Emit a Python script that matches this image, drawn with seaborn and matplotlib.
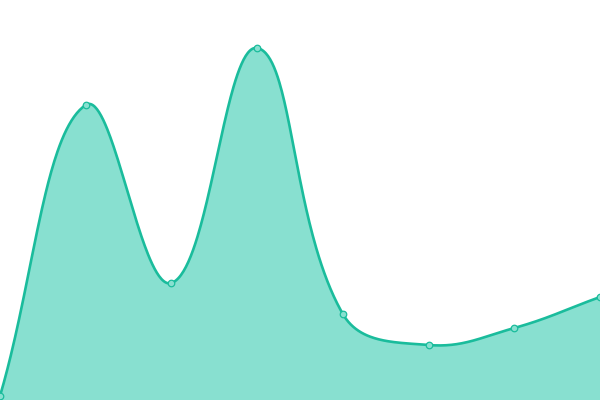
import numpy as np
import pandas as pd
import matplotlib
matplotlib.use("Agg")
import matplotlib.pyplot as plt
import seaborn as sns

# Data
x_index = [0, 1, 2, 3, 4, 5, 6, 7]
values = [4, 295, 117, 352, 86, 55, 72, 103]

LINE = "#1abc9c"
FILL = "#88e0d0"
TENSION = 0.4
XPX = 600 / 7.0  # pixels per x unit (used for the spline distances)


def spline_curve(x, y, tension=TENSION, per=80):
    """Bezier spline through the points (Chart.js style control points)."""
    px = np.asarray(x, float) * XPX
    py = np.asarray(y, float)
    pts = np.column_stack([px, py])
    n = len(pts)
    cp_prev = np.zeros_like(pts)
    cp_next = np.zeros_like(pts)
    for i in range(n):
        prev = pts[max(i - 1, 0)]
        cur = pts[i]
        nxt = pts[min(i + 1, n - 1)]
        d01 = np.hypot(*(cur - prev))
        d12 = np.hypot(*(nxt - cur))
        s01 = d01 / (d01 + d12) if (d01 + d12) else 0
        s12 = d12 / (d01 + d12) if (d01 + d12) else 0
        fa = tension * s01
        fb = tension * s12
        cp_prev[i] = cur - fa * (nxt - prev)
        cp_next[i] = cur + fb * (nxt - prev)
    xs, ys = [], []
    for i in range(n - 1):
        u = np.linspace(0, 1, per, endpoint=(i == n - 2))[:, None]
        p0, p1, p2, p3 = pts[i], cp_next[i], cp_prev[i + 1], pts[i + 1]
        b = ((1 - u) ** 3) * p0 + 3 * ((1 - u) ** 2) * u * p1 + 3 * (1 - u) * u**2 * p2 + u**3 * p3
        xs.append(b[:, 0] / XPX)
        ys.append(b[:, 1])
    return np.concatenate(xs), np.concatenate(ys)


df = pd.DataFrame({"x": x_index, "y": values})
cx, cy = spline_curve(df["x"], df["y"])
curve = pd.DataFrame({"x": cx, "y": cy})

sns.set_theme(style="white")
fig = plt.figure(figsize=(6, 4), dpi=100)
ax = fig.add_axes([0, 0, 1, 1])

ax.fill_between(curve["x"], curve["y"], 0, color=FILL, linewidth=0, zorder=1)
sns.lineplot(data=curve, x="x", y="y", ax=ax, color=LINE, linewidth=1.9, zorder=2, sort=False)
sns.scatterplot(data=df, x="x", y="y", ax=ax, s=22, color=FILL, edgecolor=LINE,
                linewidth=0.9, zorder=3, clip_on=True)

ax.set_xlim(0, 7)
ax.set_ylim(0, 400)
ax.set_axis_off()
fig.savefig("out.png", dpi=100)
